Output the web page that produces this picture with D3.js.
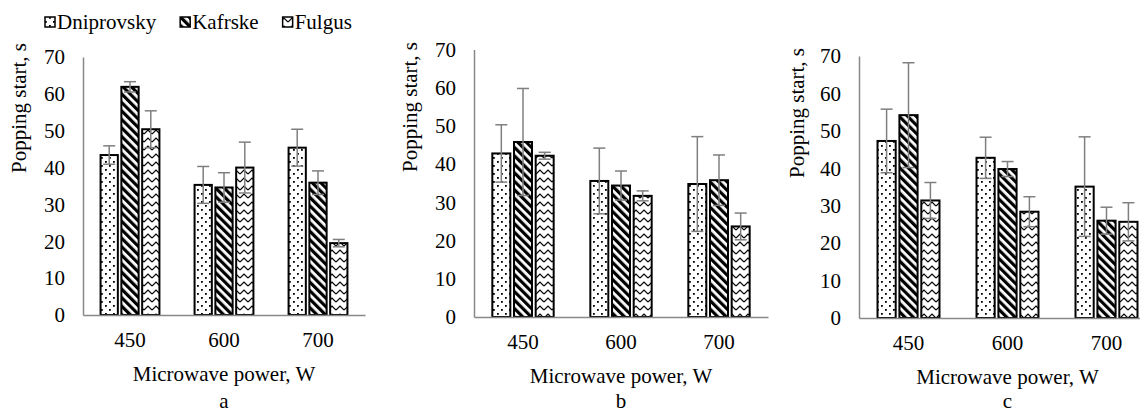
<!DOCTYPE html>
<html><head><meta charset="utf-8">
<script src="https://cdn.jsdelivr.net/npm/d3@7"></script>
<style>
body{margin:0;background:#fff}
svg{display:block}
</style>
</head><body>
<svg id="chart" width="1140" height="412"></svg>
<script>
const categories = ["450", "600", "700"];
const seriesNames = ["Dniprovsky", "Kafrske", "Fulgus"];
const yTicks = [0, 10, 20, 30, 40, 50, 60, 70];
const panelLetters = ["a", "b", "c"];

// panel a
const aDniprovsky = [43.4, 35.3, 45.4];
const aKafrske    = [61.9, 34.6, 35.9];
const aFulgus     = [50.4, 40.0, 19.5];
const aErrDniprovsky = [2.5, 5.0, 5.0];
const aErrKafrske    = [1.4, 4.0, 3.2];
const aErrFulgus     = [5.0, 6.9, 1.0];
// panel b
const bDniprovsky = [42.8, 35.6, 34.8];
const bKafrske    = [45.8, 34.4, 35.8];
const bFulgus     = [42.2, 31.7, 23.7];
const bErrDniprovsky = [7.5, 8.6, 12.4];
const bErrKafrske    = [14.0, 3.8, 6.6];
const bErrFulgus     = [0.9, 1.3, 3.5];
// panel c
const cDniprovsky = [47.3, 42.8, 35.1];
const cKafrske    = [54.2, 39.8, 26.0];
const cFulgus     = [31.4, 28.4, 25.7];
const cErrDniprovsky = [8.5, 5.5, 13.3];
const cErrKafrske    = [14.0, 2.0, 3.6];
const cErrFulgus     = [4.8, 4.0, 5.1];

const panels = [
  {values:[aDniprovsky,aKafrske,aFulgus], errs:[aErrDniprovsky,aErrKafrske,aErrFulgus],
   x0:83, x1:365, yTop:57, yBot:315, ytitleX:19, ytitleY:108},
  {values:[bDniprovsky,bKafrske,bFulgus], errs:[bErrDniprovsky,bErrKafrske,bErrFulgus],
   x0:474, x1:768, yTop:49.5, yBot:317, ytitleX:410, ytitleY:107},
  {values:[cDniprovsky,cKafrske,cFulgus], errs:[cErrDniprovsky,cErrKafrske,cErrFulgus],
   x0:859, x1:1156, yTop:56, yBot:318, ytitleX:797, ytitleY:113}
];

const FONT = "Liberation Serif";
const FS = 21;
const AXIS_COLOR = "#898989";
const ERR_COLOR = "#7f7f7f";

const svg = d3.select("#chart");
const defs = svg.append("defs");

// patterns
const pDots = defs.append("pattern").attr("id","pDots").attr("patternUnits","userSpaceOnUse")
  .attr("width",8).attr("height",8);
pDots.append("rect").attr("width",8).attr("height",8).attr("fill","#fff");
pDots.append("rect").attr("x",1).attr("y",1).attr("width",1.8).attr("height",1.8).attr("fill","#000");
pDots.append("rect").attr("x",5).attr("y",5).attr("width",1.8).attr("height",1.8).attr("fill","#000");

const pStripe = defs.append("pattern").attr("id","pStripe").attr("patternUnits","userSpaceOnUse")
  .attr("width",6).attr("height",6).attr("patternTransform","rotate(-45)");
pStripe.append("rect").attr("width",6).attr("height",6).attr("fill","#fff");
pStripe.append("rect").attr("width",3.2).attr("height",6).attr("fill","#000");

const pZig = defs.append("pattern").attr("id","pZig").attr("patternUnits","userSpaceOnUse")
  .attr("width",8).attr("height",8);
pZig.append("rect").attr("width",8).attr("height",8).attr("fill","#fff");
pZig.append("path").attr("d","M0,6 L4,2 L8,6").attr("fill","none").attr("stroke","#000").attr("stroke-width",1.2);

const fills = ["url(#pDots)","url(#pStripe)","url(#pZig)"];

panels.forEach((p, pi) => {
  const g = svg.append("g");
  const y = d3.scaleLinear().domain([0,70]).range([p.yBot, p.yTop]);
  const x = d3.scaleBand().domain(categories).range([p.x0, p.x1]).paddingInner(0.374).paddingOuter(0.187);
  const xs = d3.scaleBand().domain(seriesNames).range([0, x.bandwidth()]).paddingInner(0.17);

  // y axis
  const ya = g.append("g").attr("transform",`translate(${p.x0},0)`)
    .call(d3.axisLeft(y).tickValues(yTicks).tickSize(0).tickPadding(18).tickFormat(d3.format("d")));
  ya.attr("font-family",null).attr("font-size",null);
  ya.select(".domain").attr("stroke",AXIS_COLOR).attr("stroke-width",1.5);
  ya.selectAll("text").attr("fill","#000").attr("font-family",FONT).attr("font-size",FS);

  // bars
  seriesNames.forEach((s, si) => {
    g.selectAll(null).data(categories).enter().append("rect")
      .attr("x", c => x(c) + xs(s))
      .attr("y", (c,i) => y(p.values[si][i]))
      .attr("width", xs.bandwidth())
      .attr("height", (c,i) => y(0) - y(p.values[si][i]))
      .attr("fill", fills[si]).attr("stroke","#000").attr("stroke-width",2);
  });

  // x axis
  const xa = g.append("g").attr("transform",`translate(0,${p.yBot})`)
    .call(d3.axisBottom(x).tickSize(0).tickPadding(17).tickSizeOuter(0));
  xa.attr("font-family",null).attr("font-size",null);
  xa.select(".domain").attr("stroke",AXIS_COLOR).attr("stroke-width",1.5);
  xa.selectAll("text").attr("fill","#000").attr("font-family",FONT).attr("font-size",FS);

  // error bars
  seriesNames.forEach((s, si) => {
    categories.forEach((c, i) => {
      const cx = x(c) + xs(s) + xs.bandwidth()/2;
      const v = p.values[si][i], e = p.errs[si][i];
      const eg = g.append("g").attr("stroke",ERR_COLOR).attr("stroke-width",1.5);
      eg.append("line").attr("x1",cx).attr("x2",cx).attr("y1",y(v-e)).attr("y2",y(v+e));
      eg.append("line").attr("x1",cx-6).attr("x2",cx+6).attr("y1",y(v+e)).attr("y2",y(v+e));
      eg.append("line").attr("x1",cx-6).attr("x2",cx+6).attr("y1",y(v-e)).attr("y2",y(v-e));
    });
  });

  // titles
  const cxm = (p.x0 + p.x1)/2;
  g.append("text").attr("x",cxm).attr("y",p.yBot+66).attr("text-anchor","middle")
    .attr("font-family",FONT).attr("font-size",FS).text("Microwave power, W");
  g.append("text").attr("x",cxm).attr("y",408).attr("text-anchor","middle")
    .attr("font-family",FONT).attr("font-size",FS).text(panelLetters[pi]);
  g.append("text").attr("transform",`translate(${p.ytitleX + 7},${p.ytitleY}) rotate(-90)`)
    .attr("text-anchor","middle").attr("font-family",FONT).attr("font-size",FS).text("Popping start, s");
});

// legend
let lx = 45;
seriesNames.forEach((s, si) => {
  svg.append("rect").attr("x",lx).attr("y",17).attr("width",10).attr("height",10)
    .attr("fill",fills[si]).attr("stroke","#000").attr("stroke-width",1.5);
  const t = svg.append("text").attr("x",lx+12).attr("y",28.5)
    .attr("font-family",FONT).attr("font-size",FS).text(s);
  lx = lx + 12 + t.node().getComputedTextLength() + 24;
});
</script>
</body></html>
